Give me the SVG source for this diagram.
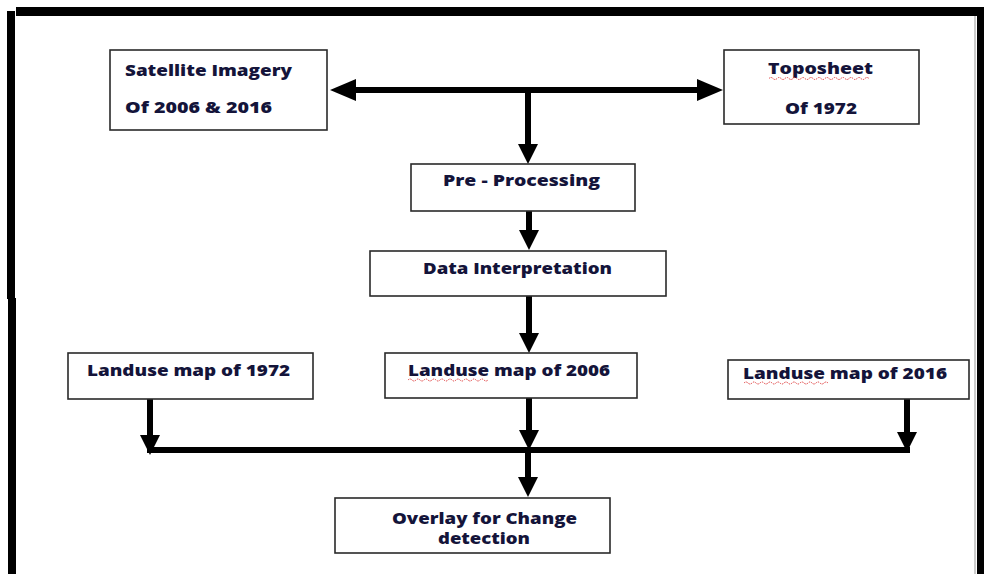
<svg xmlns="http://www.w3.org/2000/svg" width="984" height="574" viewBox="0 0 984 574">
<style>
.box{fill:#fff;stroke:#2a2a2a;stroke-width:1.6}
.t{font-family:"Open Sans","Liberation Sans",sans-serif;font-weight:800;font-size:16px;fill:#14143a}
.c{stroke:#000;stroke-width:6;fill:none}
.sq{stroke:#e04040;stroke-width:1;fill:none;stroke-dasharray:1.5 1}
</style>
<defs>
<marker id="ah" viewBox="0 0 20 20" markerUnits="userSpaceOnUse" markerWidth="20" markerHeight="20" refX="8" refY="10" orient="auto-start-reverse">
<path d="M0,0 L20,10 L0,20 z" fill="#000"/>
</marker>
<marker id="ahb" viewBox="0 0 26 22" markerUnits="userSpaceOnUse" markerWidth="26" markerHeight="22" refX="10" refY="11" orient="auto-start-reverse">
<path d="M0,0 L26,11 L0,22 z" fill="#000"/>
</marker>
</defs>
<rect width="984" height="574" fill="#fff"/>
<g id="frame">
<rect x="16" y="7" width="968" height="9" fill="#000"/>
<rect x="7" y="11" width="8" height="288" fill="#000"/>
<rect x="8" y="298" width="8" height="276" fill="#000"/>
<rect x="977" y="7" width="7" height="567" fill="#000"/>
<line x1="975" y1="16" x2="975" y2="574" stroke="#999" stroke-width="1"/>
</g>
<g id="connectors">
<line class="c" x1="346" y1="90" x2="707" y2="90" marker-start="url(#ahb)" marker-end="url(#ahb)"/>
<line class="c" x1="528" y1="90" x2="528" y2="152" marker-end="url(#ah)"/>
<line class="c" x1="529" y1="211" x2="529" y2="238" marker-end="url(#ah)"/>
<line class="c" x1="529" y1="296" x2="529" y2="341" marker-end="url(#ah)"/>
<line class="c" x1="147" y1="450" x2="910" y2="450"/>
<line class="c" x1="150" y1="399" x2="150" y2="443" marker-end="url(#ah)"/>
<line class="c" x1="529" y1="398" x2="529" y2="438" marker-end="url(#ah)"/>
<line class="c" x1="907" y1="399" x2="907" y2="440" marker-end="url(#ah)"/>
<line class="c" x1="528" y1="450" x2="528" y2="485" marker-end="url(#ah)"/>
</g>
<g id="satellite">
<rect class="box" x="110" y="50" width="217" height="80"/>
<text class="t" x="125" y="76" font-size="17" textLength="167" lengthAdjust="spacingAndGlyphs">Satellite Imagery</text>
<text class="t" x="125" y="113" font-size="17" textLength="147" lengthAdjust="spacingAndGlyphs">Of 2006  &amp; 2016</text>
</g>
<g id="toposheet">
<rect class="box" x="724" y="50" width="195" height="74"/>
<text class="t" x="768" y="74" font-size="17" textLength="105" lengthAdjust="spacingAndGlyphs">Toposheet</text>
<path class="sq" d="M769,78.5 q2,-2 4,0 t4,0 t4,0 t4,0 t4,0 t4,0 t4,0 t4,0 t4,0 t4,0 t4,0 t4,0 t4,0 t4,0 t4,0 t4,0 t4,0 t4,0 t4,0 t4,0 t4,0 t4,0 t4,0 t4,0 t4,0"/>
<text class="t" x="785" y="114" font-size="17" textLength="72" lengthAdjust="spacingAndGlyphs">Of 1972</text>
</g>
<g id="preprocessing">
<rect class="box" x="411" y="164" width="224" height="47"/>
<text class="t" x="443" y="186" textLength="157" lengthAdjust="spacingAndGlyphs">Pre - Processing</text>
</g>
<g id="datainterp">
<rect class="box" x="370" y="251" width="296" height="45"/>
<text class="t" x="423" y="274" textLength="189" lengthAdjust="spacingAndGlyphs">Data Interpretation</text>
</g>
<g id="landuse1972">
<rect class="box" x="68" y="353" width="245" height="46"/>
<text class="t" x="87" y="376" textLength="203" lengthAdjust="spacingAndGlyphs">Landuse map of 1972</text>
</g>
<g id="landuse2006">
<rect class="box" x="385" y="353" width="252" height="45"/>
<text class="t" x="408" y="376" textLength="202" lengthAdjust="spacingAndGlyphs">Landuse map of 2006</text>
<path class="sq" d="M408,380 q2,-2 4,0 t4,0 t4,0 t4,0 t4,0 t4,0 t4,0 t4,0 t4,0 t4,0 t4,0 t4,0 t4,0 t4,0 t4,0 t4,0 t4,0 t4,0 t4,0 t4,0"/>
</g>
<g id="landuse2016">
<rect class="box" x="728" y="360" width="241" height="39"/>
<text class="t" x="743" y="379" textLength="204" lengthAdjust="spacingAndGlyphs">Landuse map of 2016</text>
<path class="sq" d="M744,383 q2,-2 4,0 t4,0 t4,0 t4,0 t4,0 t4,0 t4,0 t4,0 t4,0 t4,0 t4,0 t4,0 t4,0 t4,0 t4,0 t4,0 t4,0 t4,0 t4,0 t4,0 t4,0"/>
</g>
<g id="overlay">
<rect class="box" x="335" y="498" width="275" height="55"/>
<text class="t" x="392" y="524" textLength="185" lengthAdjust="spacingAndGlyphs">Overlay for Change</text>
<text class="t" x="438" y="544" textLength="92" lengthAdjust="spacingAndGlyphs">detection</text>
</g>
</svg>
